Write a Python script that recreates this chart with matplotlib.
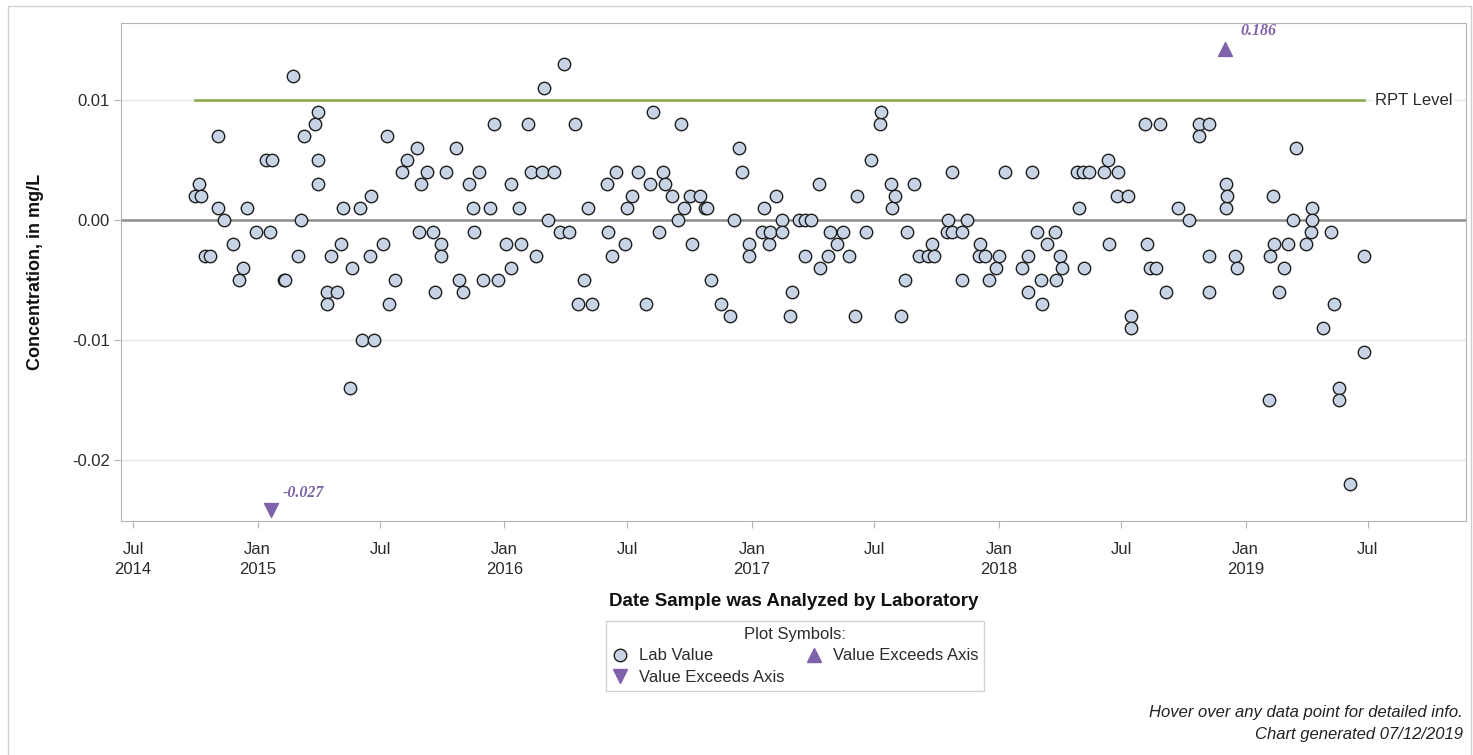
import matplotlib
matplotlib.use("Agg")
import matplotlib.pyplot as plt
import matplotlib.dates as mdates
import matplotlib.transforms as mtransforms
from matplotlib.lines import Line2D
from matplotlib.patches import Rectangle
import pandas as pd

plt.rcParams["font.family"] = ["Liberation Sans", "DejaVu Sans"]
plt.rcParams["axes.unicode_minus"] = False

# lab values (mg/L) by date analyzed
dates_2014 = ["2014-10-01", "2014-10-06", "2014-10-09", "2014-10-15", "2014-10-22", "2014-11-03",
              "2014-11-04", "2014-11-13", "2014-11-26", "2014-12-05", "2014-12-11", "2014-12-17",
              "2014-12-30"]
vals_2014 = [0.002, 0.003, 0.002, -0.003, -0.003, 0.007, 0.001, 0.000, -0.002, -0.005, -0.004, 0.001,
             -0.001]

dates_2015 = ["2015-01-13", "2015-01-20", "2015-01-22", "2015-02-09", "2015-02-11", "2015-02-23",
              "2015-03-02", "2015-03-06", "2015-03-10", "2015-03-27", "2015-03-31", "2015-03-31",
              "2015-03-31", "2015-04-13", "2015-04-13", "2015-04-20", "2015-04-28", "2015-05-05",
              "2015-05-07", "2015-05-18", "2015-05-20", "2015-06-01", "2015-06-05", "2015-06-16",
              "2015-06-18", "2015-06-22", "2015-07-06", "2015-07-12", "2015-07-14", "2015-07-23",
              "2015-08-02", "2015-08-10", "2015-08-25", "2015-08-27", "2015-08-31", "2015-09-08",
              "2015-09-17", "2015-09-21", "2015-09-29", "2015-09-29", "2015-10-06", "2015-10-21",
              "2015-10-26", "2015-11-01", "2015-11-10", "2015-11-16", "2015-11-17", "2015-11-24",
              "2015-11-30", "2015-12-11", "2015-12-16", "2015-12-23"]
vals_2015 = [0.005, -0.001, 0.005, -0.005, -0.005, 0.012, -0.003, 0.000, 0.007, 0.008, 0.009, 0.005,
             0.003, -0.006, -0.007, -0.003, -0.006, -0.002, 0.001, -0.014, -0.004, 0.001, -0.010, -0.003,
             0.002, -0.010, -0.002, 0.007, -0.007, -0.005, 0.004, 0.005, 0.006, -0.001, 0.003, 0.004,
             -0.001, -0.006, -0.002, -0.003, 0.004, 0.006, -0.005, -0.006, 0.003, 0.001, -0.001, 0.004,
             -0.005, 0.001, 0.008, -0.005]

dates_2016 = ["2016-01-04", "2016-01-10", "2016-01-10", "2016-01-22", "2016-01-25", "2016-02-05",
              "2016-02-10", "2016-02-17", "2016-02-25", "2016-02-28", "2016-03-05", "2016-03-14",
              "2016-03-23", "2016-03-29", "2016-04-05", "2016-04-15", "2016-04-19", "2016-04-27",
              "2016-05-03", "2016-05-09", "2016-05-31", "2016-06-02", "2016-06-08", "2016-06-14",
              "2016-06-27", "2016-06-30", "2016-07-07", "2016-07-17", "2016-07-28", "2016-08-03",
              "2016-08-07", "2016-08-17", "2016-08-23", "2016-08-25", "2016-09-05", "2016-09-13",
              "2016-09-18", "2016-09-22", "2016-10-02", "2016-10-04", "2016-10-16", "2016-10-24",
              "2016-10-27", "2016-11-01", "2016-11-16", "2016-11-29", "2016-12-05", "2016-12-13",
              "2016-12-17", "2016-12-28", "2016-12-28"]
vals_2016 = [-0.002, 0.003, -0.004, 0.001, -0.002, 0.008, 0.004, -0.003, 0.004, 0.011, 0.000, 0.004,
             -0.001, 0.013, -0.001, 0.008, -0.007, -0.005, 0.001, -0.007, 0.003, -0.001, -0.003, 0.004,
             -0.002, 0.001, 0.002, 0.004, -0.007, 0.003, 0.009, -0.001, 0.004, 0.003, 0.002, 0.000,
             0.008, 0.001, 0.002, -0.002, 0.002, 0.001, 0.001, -0.005, -0.007, -0.008, 0.000, 0.006,
             0.004, -0.002, -0.003]

dates_2017 = ["2017-01-16", "2017-01-19", "2017-01-26", "2017-01-28", "2017-02-05", "2017-02-14",
              "2017-02-15", "2017-02-26", "2017-03-02", "2017-03-12", "2017-03-20", "2017-03-21",
              "2017-03-29", "2017-04-10", "2017-04-12", "2017-04-24", "2017-04-27", "2017-05-07",
              "2017-05-16", "2017-05-24", "2017-06-02", "2017-06-05", "2017-06-18", "2017-06-26",
              "2017-07-09", "2017-07-11", "2017-07-25", "2017-07-27", "2017-07-31", "2017-08-09",
              "2017-08-15", "2017-08-19", "2017-08-29", "2017-09-05", "2017-09-18", "2017-09-25",
              "2017-09-27", "2017-10-17", "2017-10-18", "2017-10-24", "2017-10-24", "2017-11-07",
              "2017-11-08", "2017-11-15", "2017-12-03", "2017-12-05", "2017-12-11", "2017-12-17",
              "2017-12-28"]
vals_2017 = [-0.001, 0.001, -0.002, -0.001, 0.002, 0.000, -0.001, -0.008, -0.006, 0.000, 0.000, -0.003,
             0.000, 0.003, -0.004, -0.003, -0.001, -0.002, -0.001, -0.003, -0.008, 0.002, -0.001, 0.005,
             0.008, 0.009, 0.003, 0.001, 0.002, -0.008, -0.005, -0.001, 0.003, -0.003, -0.003, -0.002,
             -0.003, -0.001, 0.000, 0.004, -0.001, -0.005, -0.001, 0.000, -0.003, -0.002, -0.003, -0.005,
             -0.004]

dates_2018 = ["2018-01-02", "2018-01-11", "2018-02-04", "2018-02-13", "2018-02-13", "2018-02-19",
              "2018-02-26", "2018-03-04", "2018-03-06", "2018-03-13", "2018-03-25", "2018-03-27",
              "2018-04-02", "2018-04-04", "2018-04-27", "2018-04-30", "2018-05-06", "2018-05-07",
              "2018-05-15", "2018-06-05", "2018-06-12", "2018-06-13", "2018-06-25", "2018-06-27",
              "2018-07-11", "2018-07-16", "2018-07-16", "2018-08-06", "2018-08-08", "2018-08-13",
              "2018-08-21", "2018-08-27", "2018-09-05", "2018-09-23", "2018-10-10", "2018-10-24",
              "2018-10-24", "2018-11-08", "2018-11-08", "2018-11-08", "2018-12-03", "2018-12-03",
              "2018-12-05", "2018-12-17", "2018-12-19"]
vals_2018 = [-0.003, 0.004, -0.004, -0.003, -0.006, 0.004, -0.001, -0.005, -0.007, -0.002, -0.001, -0.005,
             -0.003, -0.004, 0.004, 0.001, 0.004, -0.004, 0.004, 0.004, 0.005, -0.002, 0.002, 0.004,
             0.002, -0.008, -0.009, 0.008, -0.002, -0.004, -0.004, 0.008, -0.006, 0.001, 0.000, 0.008,
             0.007, 0.008, -0.003, -0.006, 0.003, 0.001, 0.002, -0.003, -0.004]

dates_2019 = ["2019-02-04", "2019-02-06", "2019-02-11", "2019-02-12", "2019-02-19", "2019-02-27",
              "2019-03-05", "2019-03-12", "2019-03-17", "2019-04-01", "2019-04-08", "2019-04-10",
              "2019-04-10", "2019-04-25", "2019-05-08", "2019-05-12", "2019-05-19", "2019-05-19",
              "2019-06-05", "2019-06-25", "2019-06-25"]
vals_2019 = [-0.015, -0.003, 0.002, -0.002, -0.006, -0.004, -0.002, 0.000, 0.006, -0.002, -0.001, 0.001,
             0.000, -0.009, -0.001, -0.007, -0.014, -0.015, -0.022, -0.003, -0.011]

# values outside the axis range
exceed_up_date = "2018-12-02"
exceed_up_val = 0.186
exceed_down_date = "2015-01-21"
exceed_down_val = -0.027

rpt_level = 0.01

dates = pd.to_datetime(dates_2014 + dates_2015 + dates_2016 + dates_2017 + dates_2018 + dates_2019)
values = vals_2014 + vals_2015 + vals_2016 + vals_2017 + vals_2018 + vals_2019

W, H = 1473, 755
fig = plt.figure(figsize=(W / 100, H / 100), dpi=100)
ax = fig.add_axes([121 / W, 1 - 521 / H, 1345 / W, 498 / H])

face = "#c7d4e6"
purple = "#7f62a9"
text_col = "#2b2b2b"

ax.set_ylim(-0.025083, 0.016417)
ax.set_xlim(pd.Timestamp("2014-06-13"), pd.Timestamp("2019-11-23"))
ax.set_yticks([-0.02, -0.01, 0.0, 0.01])
ax.set_yticklabels(["%.2f" % v for v in [-0.02, -0.01, 0.0, 0.01]])

ticks = pd.date_range("2014-07-01", "2019-07-01", freq="6MS")
labels = []
for i, t in enumerate(ticks):
    if t.month == 1 or i == 0:
        labels.append(t.strftime("%b") + "\n" + t.strftime("%Y"))
    else:
        labels.append(t.strftime("%b"))
ax.set_xticks(ticks)
ax.set_xticklabels(labels, linespacing=1.4)

ax.yaxis.grid(True, color="#e8e8e8", lw=1)
ax.set_axisbelow(True)
for s in ax.spines.values():
    s.set_color("#b4b4b4")
ax.tick_params(axis="both", colors="#b4b4b4", labelcolor=text_col, labelsize=12, length=5)
ax.tick_params(axis="x", pad=10)
ax.tick_params(axis="y", pad=3)

# reference lines
ax.axhline(0, color="#8e8e8e", lw=1.8, zorder=1)
ax.plot([dates.min(), dates.max()], [rpt_level, rpt_level], color="#8bab4c", lw=1.9, zorder=2)
ax.annotate("RPT Level", xy=(dates.max(), rpt_level), xytext=(8, 0), textcoords="offset points",
            ha="left", va="center", fontsize=12, color=text_col,
            bbox=dict(boxstyle="square,pad=0.1", fc="white", ec="none"))

# lab values
ax.scatter(dates, values, s=80, facecolor=face, edgecolor="#1e1e1e", linewidth=1.0, zorder=3)

# exceedance markers pinned to axis edges
trans = mtransforms.blended_transform_factory(ax.transData, ax.transAxes)
up_x = mdates.date2num(pd.Timestamp(exceed_up_date))
dn_x = mdates.date2num(pd.Timestamp(exceed_down_date))
ax.scatter([up_x], [0.948], marker="^", s=100, color=purple, transform=trans, zorder=3, clip_on=False)
ax.scatter([dn_x], [0.022], marker="v", s=100, color=purple, transform=trans, zorder=3, clip_on=False)
ax.annotate("%.3f" % exceed_up_val, xy=(up_x, 0.948), xycoords=trans, xytext=(11, 13),
            textcoords="offset points", ha="left", va="center", fontsize=11.5, color=purple,
            family="Liberation Serif", weight="bold", style="italic")
ax.annotate("%.3f" % exceed_down_val, xy=(dn_x, 0.022), xycoords=trans, xytext=(8, 12),
            textcoords="offset points", ha="left", va="center", fontsize=11.5, color=purple,
            family="Liberation Serif", weight="bold", style="italic")

# axis titles
fig.text(36 / W, 1 - 272 / H, "Concentration, in mg/L", rotation=90, ha="center", va="center",
         fontsize=13, weight="bold", color="#111111")
fig.text(794 / W, 1 - 601 / H, "Date Sample was Analyzed by Laboratory", ha="center", va="center",
         fontsize=13.5, weight="bold", color="#111111")

# legend
handles = [
    Line2D([], [], ls="", marker="o", markersize=9, markerfacecolor=face, markeredgecolor="#1e1e1e"),
    Line2D([], [], ls="", marker="v", markersize=9.5, color=purple),
    Line2D([], [], ls="", marker="^", markersize=9.5, color=purple),
]
leg = fig.legend(handles, ["Lab Value", "Value Exceeds Axis", "Value Exceeds Axis"], ncol=2,
                 title="Plot Symbols:", loc="upper center", bbox_to_anchor=(795 / W, 1 - 621 / H),
                 fontsize=12, title_fontsize=12, frameon=True, fancybox=False,
                 edgecolor="#c8c8c8", borderpad=0.35, labelspacing=0.4, handletextpad=0.6,
                 columnspacing=1.3, handlelength=1.0, borderaxespad=0)
leg.get_frame().set_linewidth(1)
for t in leg.get_texts():
    t.set_color(text_col)
leg.get_title().set_color(text_col)

# footnotes
fig.text(1463 / W, 1 - 713 / H, "Hover over any data point for detailed info.", ha="right", va="center",
         fontsize=12, style="italic", color="#222222")
fig.text(1463 / W, 1 - 735 / H, "Chart generated 07/12/2019", ha="right", va="center",
         fontsize=12, style="italic", color="#222222")

# outer border
fig.patches.append(Rectangle((8 / W, -0.01), (1471 - 8) / W, 1.01 - 6 / H, transform=fig.transFigure,
                             fill=False, edgecolor="#d0d0d0", lw=1))

fig.savefig("out.png", dpi=100)
